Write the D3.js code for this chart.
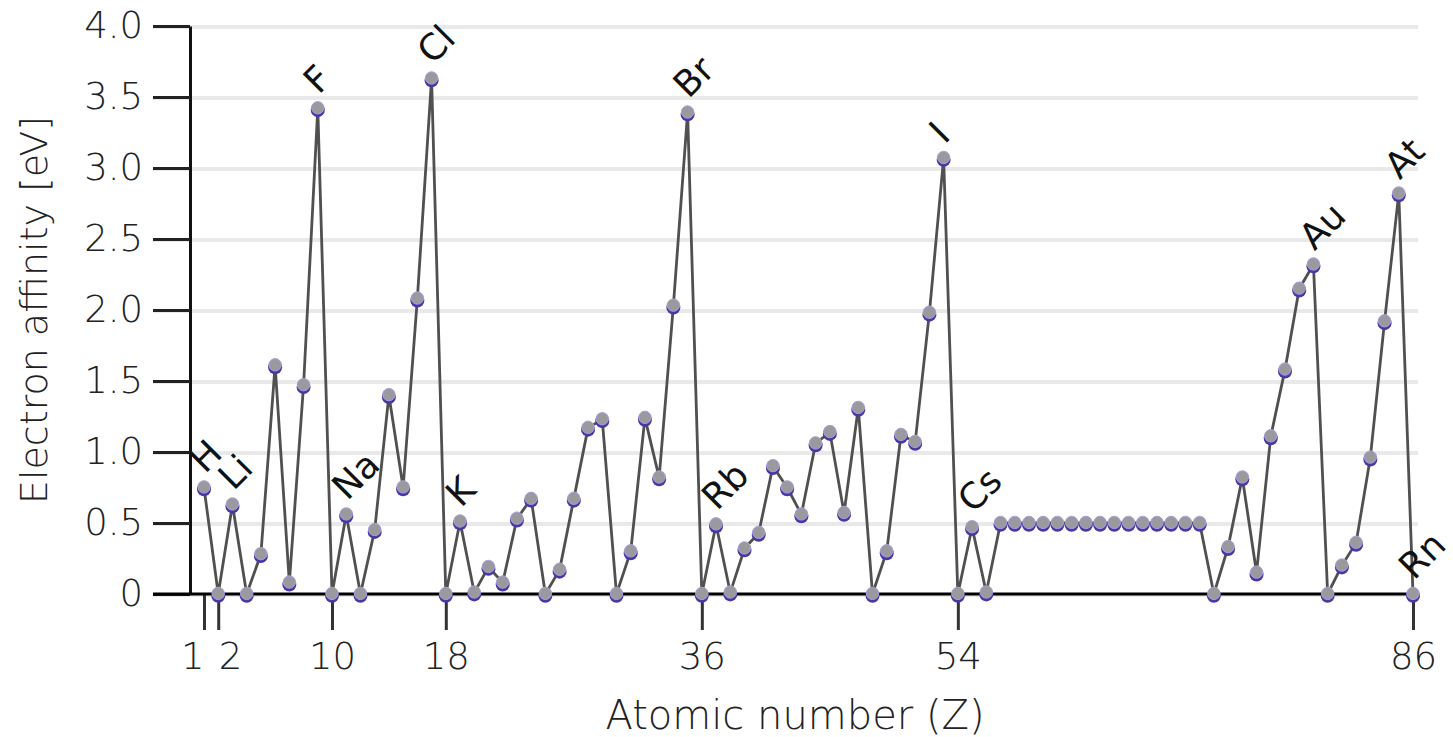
<!DOCTYPE html>
<html>
<head>
<meta charset="utf-8">
<script src="https://cdn.jsdelivr.net/npm/d3@7"></script>
<style>
  html, body { margin: 0; padding: 0; background: #fff; }
  svg { display: block; font-family: "DejaVu Sans", sans-serif; }
</style>
</head>
<body>
<svg id="chart" width="1453" height="737"></svg>
<script>
// ── Data ────────────────────────────────────────────────────────────────────
const atomicNumbers = [
  1, 2, 3, 4, 5, 6, 7, 8, 9, 10, 11, 12, 13, 14, 15, 16, 17, 18, 19, 20,
  21, 22, 23, 24, 25, 26, 27, 28, 29, 30, 31, 32, 33, 34, 35, 36, 37, 38, 39, 40,
  41, 42, 43, 44, 45, 46, 47, 48, 49, 50, 51, 52, 53, 54, 55, 56, 57, 58, 59, 60,
  61, 62, 63, 64, 65, 66, 67, 68, 69, 70, 71, 72, 73, 74, 75, 76, 77, 78, 79, 80,
  81, 82, 83, 84, 85, 86,
];
const symbols = [
  'H','He','Li','Be','B','C','N','O','F','Ne','Na','Mg','Al','Si','P','S','Cl','Ar','K','Ca',
  'Sc','Ti','V','Cr','Mn','Fe','Co','Ni','Cu','Zn','Ga','Ge','As','Se','Br','Kr','Rb','Sr','Y','Zr',
  'Nb','Mo','Tc','Ru','Rh','Pd','Ag','Cd','In','Sn','Sb','Te','I','Xe','Cs','Ba','La','Ce','Pr','Nd',
  'Pm','Sm','Eu','Gd','Tb','Dy','Ho','Er','Tm','Yb','Lu','Hf','Ta','W','Re','Os','Ir','Pt','Au','Hg',
  'Tl','Pb','Bi','Po','At','Rn',
];
// electron affinity in eV
const affinity = [
  0.75, 0, 0.63, 0, 0.28, 1.61, 0.08, 1.47, 3.42, 0, 0.56, 0, 0.45, 1.40, 0.75, 2.08, 3.63, 0, 0.51, 0.01,
  0.19, 0.08, 0.53, 0.67, 0, 0.17, 0.67, 1.17, 1.23, 0, 0.30, 1.24, 0.82, 2.03, 3.39, 0, 0.49, 0.01, 0.32, 0.43,
  0.90, 0.75, 0.56, 1.06, 1.14, 0.57, 1.31, 0, 0.30, 1.12, 1.07, 1.98, 3.07, 0, 0.47, 0.01, 0.50, 0.50, 0.50, 0.50,
  0.50, 0.50, 0.50, 0.50, 0.50, 0.50, 0.50, 0.50, 0.50, 0.50, 0.50, 0, 0.33, 0.82, 0.15, 1.11, 1.58, 2.15, 2.32, 0,
  0.20, 0.36, 0.96, 1.92, 2.82, 0,
];
const labelled = ['H','Li','F','Na','Cl','K','Br','Rb','I','Cs','Au','At','Rn'];
const xTicks = [1, 2, 10, 18, 36, 54, 86];
const yTicks = [0, 0.5, 1.0, 1.5, 2.0, 2.5, 3.0, 3.5, 4.0];

// ── Layout ──────────────────────────────────────────────────────────────────
const AXIS_X = 190, GRID_L = 153, GRID_R = 1418;
const x = d3.scaleLinear().domain([1, 86]).range([204, 1413]);
const y = d3.scaleLinear().domain([0, 4]).range([594, 26]);

const points = atomicNumbers.map((z, i) => ({ z, sym: symbols[i], v: affinity[i] }));
const svg = d3.select('#chart');

// gridlines
svg.append('g')
  .selectAll('line')
  .data(yTicks)
  .join('line')
  .attr('x1', GRID_L).attr('x2', GRID_R)
  .attr('y1', d => y(d) + 1).attr('y2', d => y(d) + 1)
  .attr('stroke', '#e9e9e9')
  .attr('stroke-width', 4);

// y axis
const yAxis = svg.append('g')
  .attr('transform', `translate(${AXIS_X},0)`)
  .call(d3.axisLeft(y)
    .tickValues(yTicks)
    .tickFormat(d => d === 0 ? '0' : d.toFixed(1))
    .tickSize(AXIS_X - GRID_L)
    .tickSizeOuter(0)
    .tickPadding(10));
yAxis.select('.domain').attr('stroke', '#111').attr('stroke-width', 3);
yAxis.selectAll('.tick line').attr('stroke', '#222').attr('stroke-width', 3);
yAxis.selectAll('.tick text')
  .attr('font-size', 37).attr('fill', '#222').attr('font-weight', 300)
  .attr('font-family', '"DejaVu Sans", sans-serif');

// x axis
const xAxis = svg.append('g')
  .attr('transform', `translate(0,${y(0)})`)
  .call(d3.axisBottom(x)
    .tickValues(xTicks)
    .tickSize(36)
    .tickSizeOuter(0)
    .tickPadding(13));
xAxis.select('.domain').remove();
xAxis.selectAll('.tick line').attr('stroke', '#333').attr('stroke-width', 3);
xAxis.selectAll('.tick text')
  .attr('font-size', 37).attr('fill', '#222').attr('font-weight', 300)
  .attr('font-family', '"DejaVu Sans", sans-serif')
  .attr('text-anchor', d => d === 1 ? 'end' : d === 2 ? 'start' : 'middle');

svg.append('line')
  .attr('x1', GRID_L).attr('x2', x(86))
  .attr('y1', y(0)).attr('y2', y(0))
  .attr('stroke', '#000').attr('stroke-width', 3);

// axis titles
svg.append('text')
  .attr('transform', `translate(47,310) rotate(-90)`)
  .attr('text-anchor', 'middle')
  .attr('font-size', 38).attr('fill', '#222').attr('font-weight', 300)
  .text('Electron affinity [eV]');

svg.append('text')
  .attr('x', 795).attr('y', 729)
  .attr('text-anchor', 'middle')
  .attr('font-size', 40).attr('fill', '#222').attr('font-weight', 300)
  .text('Atomic number (Z)');

// series line
const line = d3.line().x(d => x(d.z)).y(d => y(d.v));
svg.append('path')
  .datum(points)
  .attr('fill', 'none')
  .attr('stroke', '#505050')
  .attr('stroke-width', 2.8)
  .attr('stroke-linejoin', 'round')
  .attr('d', line);

// markers
const marks = svg.append('g');
marks.selectAll('circle.shade')
  .data(points)
  .join('circle')
  .attr('class', 'shade')
  .attr('cx', d => x(d.z)).attr('cy', d => y(d.v) + 1.8)
  .attr('r', 7)
  .attr('fill', '#4a37a6');
marks.selectAll('circle.dot')
  .data(points)
  .join('circle')
  .attr('class', 'dot')
  .attr('cx', d => x(d.z)).attr('cy', d => y(d.v) - 0.6)
  .attr('r', 6.2)
  .attr('fill', '#9a9a9e')
  .attr('stroke', '#ad9fdc')
  .attr('stroke-width', 1);

// element labels
svg.append('g')
  .selectAll('text')
  .data(points.filter(d => labelled.includes(d.sym)))
  .join('text')
  .attr('transform', d => `translate(${x(d.z) + 1},${y(d.v) - 13}) rotate(-45)`)
  .attr('font-size', 36)
  .attr('fill', '#111')
  .text(d => d.sym);
</script>
</body>
</html>
